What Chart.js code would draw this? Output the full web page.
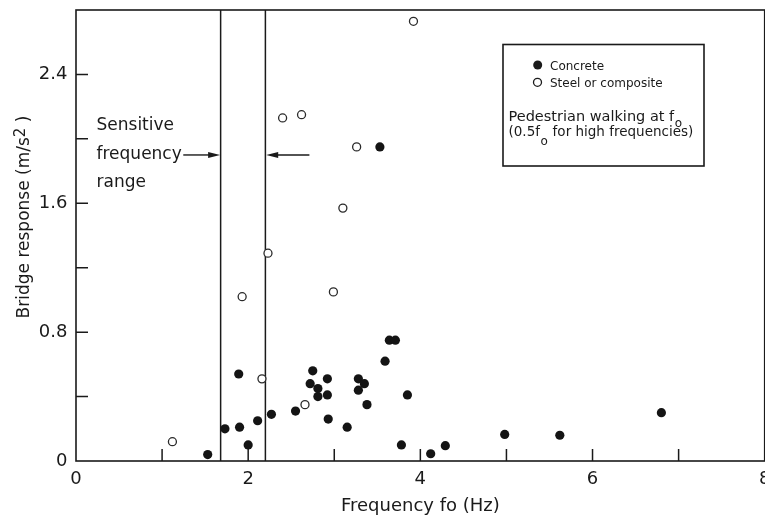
<!DOCTYPE html>
<html><head><meta charset="utf-8">
<script src="https://cdn.jsdelivr.net/npm/chart.js@4.4.0/dist/chart.umd.min.js"></script>
<style>html,body{margin:0;padding:0;background:#fff;overflow:hidden;}#wrap{width:765px;height:518px;overflow:hidden;}canvas{display:block;}</style>
</head><body><div id="wrap"><canvas id="c" width="770" height="518"></canvas></div>
<script>
// ---- data ----
const concreteX = [1.53,1.73,1.89,1.90,2.00,2.11,2.27,2.55,2.72,2.75,2.81,2.81,2.92,2.92,2.93,3.15,3.28,3.35,3.28,3.38,3.53,3.59,3.64,3.71,3.78,3.85,4.12,4.29,4.98,5.62,6.80];
const concreteY = [0.04,0.20,0.54,0.21,0.10,0.25,0.29,0.31,0.48,0.56,0.45,0.40,0.41,0.51,0.26,0.21,0.51,0.48,0.44,0.35,1.95,0.62,0.75,0.75,0.10,0.41,0.045,0.095,0.165,0.16,0.30];
const steelX = [1.12,1.93,2.16,2.23,2.40,2.62,2.66,2.99,3.10,3.26,3.92];
const steelY = [0.12,1.02,0.51,1.29,2.13,2.15,0.35,1.05,1.57,1.95,2.73];
const xTickValues = [0,2,4,6,8];
const xTickLabels = ['0','2','4','6','8'];
const xMarkTicks = [1,2,3,4,5,6,7];
const yTickValues = [0,0.8,1.6,2.4];
const yTickLabels = ['0','0.8','1.6','2.4'];
const yMarkTicks = [0.4,0.8,1.2,1.6,2.0,2.4];
const rangeBounds = [1.68, 2.2];
const arrowLevel = 1.9;
const seriesNames = ['Concrete','Steel or composite'];

const FONT = 'DejaVu Sans';
const INK = '#1a1a1a';

const toPts = (xs, ys) => xs.map((x, i) => ({x, y: ys[i]}));

const decor = {
  id: 'decor',
  beforeDatasetsDraw(chart) {
    const {ctx, chartArea: a, scales: {x, y}} = chart;
    ctx.save();
    ctx.strokeStyle = INK;
    ctx.lineWidth = 1.6;
    ctx.strokeRect(a.left, a.top, a.right - a.left, a.bottom - a.top);
    ctx.lineWidth = 1.5;
    ctx.beginPath();
    xMarkTicks.forEach(v => { const px = x.getPixelForValue(v); ctx.moveTo(px, a.bottom); ctx.lineTo(px, a.bottom - 12); });
    yMarkTicks.forEach(v => { const py = y.getPixelForValue(v); ctx.moveTo(a.left, py); ctx.lineTo(a.left + 12, py); });
    ctx.stroke();
    ctx.lineWidth = 1.5;
    ctx.beginPath();
    rangeBounds.forEach(v => { const px = x.getPixelForValue(v); ctx.moveTo(px, a.top); ctx.lineTo(px, a.bottom); });
    ctx.stroke();
    ctx.restore();
  },
  afterDraw(chart) {
    const {ctx, scales: {x, y}} = chart;
    ctx.save();
    ctx.fillStyle = INK; ctx.strokeStyle = INK;
    ctx.font = '17px "' + FONT + '"';
    ctx.textBaseline = 'alphabetic'; ctx.textAlign = 'left';
    ctx.fillText('Sensitive', 96.5, 130);
    ctx.fillText('frequency', 96.5, 158.5);
    ctx.fillText('range', 96.5, 187);
    const fw = ctx.measureText('frequency').width;
    const ay = y.getPixelForValue(arrowLevel);
    const l1 = x.getPixelForValue(rangeBounds[0]);
    const l2 = x.getPixelForValue(rangeBounds[1]);
    function arrow(x1, x2, yy) {
      const dir = x2 > x1 ? 1 : -1;
      ctx.lineWidth = 1.4;
      ctx.beginPath(); ctx.moveTo(x1, yy); ctx.lineTo(x2 - dir * 8, yy); ctx.stroke();
      ctx.beginPath(); ctx.moveTo(x2, yy); ctx.lineTo(x2 - dir * 12, yy - 3); ctx.lineTo(x2 - dir * 12, yy + 3); ctx.closePath(); ctx.fill();
    }
    arrow(96.5 + fw + 1.5, l1 - 0.5, ay);
    arrow(l2 + 44, l2 + 0.8, ay);

    // Y axis title
    ctx.save();
    ctx.translate(28.5, 217);
    ctx.rotate(-Math.PI / 2);
    ctx.font = '17px "' + FONT + '"';
    const p1 = 'Bridge response (m/s', p3 = ' )';
    const w1 = ctx.measureText(p1).width, w3 = ctx.measureText(p3).width;
    ctx.font = '15px "' + FONT + '"';
    const w2 = ctx.measureText('2').width;
    let sx = -(w1 + w2 + w3) / 2;
    ctx.font = '17px "' + FONT + '"';
    ctx.fillText(p1, sx, 0); sx += w1;
    ctx.font = '15px "' + FONT + '"';
    ctx.fillText('2', sx, -4); sx += w2;
    ctx.font = '17px "' + FONT + '"';
    ctx.fillText(p3, sx, 0);
    ctx.restore();

    // Legend / note box
    ctx.lineWidth = 1.6;
    ctx.strokeRect(503, 44.5, 201, 121.5);
    ctx.beginPath(); ctx.arc(537.7, 65, 4.5, 0, Math.PI * 2); ctx.fill();
    ctx.lineWidth = 1.3;
    ctx.beginPath(); ctx.arc(537.5, 82.3, 4, 0, Math.PI * 2); ctx.stroke();
    ctx.font = '12px "' + FONT + '"';
    ctx.fillText(seriesNames[0], 550, 69.5);
    ctx.fillText(seriesNames[1], 550, 87);
    ctx.font = '14.5px "' + FONT + '"';
    const n1 = 'Pedestrian walking at f';
    ctx.fillText(n1, 508.5, 121);
    const nw1 = ctx.measureText(n1).width;
    ctx.font = '13.5px "' + FONT + '"';
    const n2a = '(0.5f';
    ctx.fillText(n2a, 508.5, 136);
    const nw2 = ctx.measureText(n2a).width;
    ctx.font = '12px "' + FONT + '"';
    ctx.fillText('o', 508.5 + nw1 + 0.5, 126.5);
    ctx.fillText('o', 508.5 + nw2 + 0.5, 144.5);
    const ow = ctx.measureText('o').width;
    ctx.font = '13.5px "' + FONT + '"';
    ctx.fillText(' for high frequencies)', 508.5 + nw2 + ow + 1, 136);
    ctx.restore();
  }
};

new Chart(document.getElementById('c'), {
  type: 'scatter',
  data: {
    datasets: [
      { label: seriesNames[0], data: toPts(concreteX, concreteY), pointRadius: 4.6, pointBackgroundColor: '#141414', pointBorderColor: '#141414', pointBorderWidth: 0 },
      { label: seriesNames[1], data: toPts(steelX, steelY), pointRadius: 4, pointBackgroundColor: '#ffffff', pointBorderColor: '#2a2a2a', pointBorderWidth: 1.3 }
    ]
  },
  options: {
    responsive: false, animation: false, devicePixelRatio: 1,
    layout: { padding: { top: 10, right: 0, left: 0, bottom: 0 } },
    plugins: { legend: { display: false }, tooltip: { enabled: false } },
    scales: {
      x: {
        type: 'linear', min: 0, max: 8,
        afterBuildTicks: s => { s.ticks = xTickValues.map(v => ({ value: v })); },
        ticks: { callback: (v, i) => xTickLabels[i], font: { family: FONT, size: 18 }, color: INK, padding: 8, maxRotation: 0, autoSkip: false },
        grid: { display: false, drawTicks: false },
        border: { display: false },
        title: { display: true, text: 'Frequency fo (Hz)', color: INK, font: { family: FONT, size: 18 }, padding: { top: 0, bottom: 1 } },
        afterFit: s => { s.height = 57; s.paddingLeft = 0; s.paddingRight = 0; }
      },
      y: {
        type: 'linear', min: 0, max: 2.8,
        afterBuildTicks: s => { s.ticks = yTickValues.map(v => ({ value: v })); },
        ticks: { callback: (v, i) => yTickLabels[i], font: { family: FONT, size: 18 }, color: INK, padding: 8.5 },
        grid: { display: false, drawTicks: false },
        border: { display: false },
        afterFit: s => { s.width = 76; s.paddingTop = 0; s.paddingBottom = 0; }
      }
    }
  },
  plugins: [decor]
});
</script></body></html>
